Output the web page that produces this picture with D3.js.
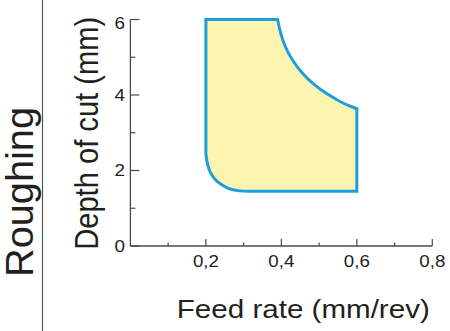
<!DOCTYPE html>
<html><head><meta charset="utf-8">
<script src="https://cdn.jsdelivr.net/npm/d3@7"></script>
<style>
html,body{margin:0;padding:0;background:#fff;}
svg{display:block;font-family:"Liberation Sans",Arial,sans-serif;}
</style></head>
<body><svg id="c" width="450" height="331"></svg>
<script>
// ---- data ----
const sectionLabel = "Roughing";
const xLabel = "Feed rate (mm/rev)";
const yLabel = "Depth of cut (mm)";
const xMajorTicks = [0.2, 0.4, 0.6, 0.8];
const xMinorTicks = [0.1, 0.3, 0.5, 0.7];
const yMajorTicks = [0, 2, 4, 6];
const yMinorTicks = [1, 3, 5];
// operating region outline (feed, depth)
const topLeftCorner = [0.2, 6];
const upperCurve = [[0.39,6],[0.398,5.62],[0.41,5.27],[0.428,4.93],[0.455,4.57],[0.485,4.28],[0.52,4.03],[0.556,3.82],[0.582,3.70],[0.6,3.64]];
const bottomRightCorner = [0.6, 1.45];
const lowerCurve = [[0.312,1.45],[0.29,1.46],[0.264,1.51],[0.242,1.62],[0.224,1.77],[0.211,1.97],[0.204,2.19],[0.2,2.46]];

// ---- drawing ----
const svg = d3.select("#c");
const x = d3.scaleLinear().domain([0, 0.8]).range([130.4, 432.3]);
const y = d3.scaleLinear().domain([0, 6]).range([246, 19.5]);
const axisColor = "#4a4a4a", textColor = "#231f20";
const fmt = d => String(d).replace(".", ",");

// left divider + section label
svg.append("line").attr("x1",42.5).attr("x2",42.5).attr("y1",0).attr("y2",331)
  .attr("stroke","#555").attr("stroke-width",1.2);
svg.append("text").text(sectionLabel)
  .attr("transform","translate(33,192) rotate(-90)")
  .attr("text-anchor","middle").attr("font-size",39).attr("fill",textColor)
  .attr("textLength",170).attr("lengthAdjust","spacingAndGlyphs");

// region
const smooth = d3.line().x(d=>x(d[0])).y(d=>y(d[1])).curve(d3.curveBasis);
const corner = d3.line().x(d=>x(d[0])).y(d=>y(d[1])).curve(d3.curveCatmullRom);
const pathD = "M" + x(topLeftCorner[0]) + "," + y(topLeftCorner[1])
  + smooth(upperCurve).replace(/^M/,"L")
  + "L" + x(bottomRightCorner[0]) + "," + y(bottomRightCorner[1])
  + corner(lowerCurve).replace(/^M/,"L") + "Z";
svg.append("path").attr("d", pathD)
  .attr("fill","#fdf4b1").attr("stroke","#1d9fdc").attr("stroke-width",3)
  .attr("stroke-linejoin","miter");

// x axis
const gx = svg.append("g").attr("transform","translate(0,246)");
gx.append("line").attr("x1",x(0)).attr("x2",x(0.8)).attr("stroke",axisColor).attr("stroke-width",1.3);
gx.selectAll(".xmaj").data(xMajorTicks).join("line")
  .attr("x1",d=>x(d)).attr("x2",d=>x(d)).attr("y1",0).attr("y2",-7)
  .attr("stroke",axisColor).attr("stroke-width",1.2);
gx.selectAll(".xmin").data(xMinorTicks).join("line")
  .attr("x1",d=>x(d)).attr("x2",d=>x(d)).attr("y1",0).attr("y2",-3.5)
  .attr("stroke",axisColor).attr("stroke-width",1.2);
gx.selectAll("text").data(xMajorTicks).join("text")
  .attr("x",d=>x(d)).attr("y",20.7).attr("text-anchor","middle")
  .attr("font-size",16).attr("fill",textColor)
  .attr("textLength",26).attr("lengthAdjust","spacingAndGlyphs")
  .text(fmt);

// y axis
const gy = svg.append("g").attr("transform","translate(130.4,0)");
gy.append("line").attr("y1",y(0)).attr("y2",y(6)).attr("stroke",axisColor).attr("stroke-width",1.3);
gy.selectAll(".ymaj").data(yMajorTicks).join("line")
  .attr("y1",d=>y(d)).attr("y2",d=>y(d)).attr("x1",0).attr("x2",9)
  .attr("stroke",axisColor).attr("stroke-width",1.2);
gy.selectAll(".ymin").data(yMinorTicks).join("line")
  .attr("y1",d=>y(d)).attr("y2",d=>y(d)).attr("x1",0).attr("x2",5)
  .attr("stroke",axisColor).attr("stroke-width",1.2);
gy.selectAll("text").data(yMajorTicks).join("text")
  .attr("x",-5.5).attr("y",d=>y(d) + (d===6 ? 9.5 : 5.8)).attr("text-anchor","end")
  .attr("font-size",16).attr("fill",textColor)
  .attr("textLength",10.5).attr("lengthAdjust","spacingAndGlyphs")
  .text(fmt);

// axis titles
svg.append("text").text(yLabel)
  .attr("transform","translate(98,133.3) rotate(-90)")
  .attr("text-anchor","middle").attr("font-size",34).attr("fill",textColor)
  .attr("textLength",233).attr("lengthAdjust","spacingAndGlyphs");
svg.append("text").text(xLabel)
  .attr("x",303.3).attr("y",318.3).attr("text-anchor","middle")
  .attr("font-size",25.5).attr("fill",textColor)
  .attr("textLength",253).attr("lengthAdjust","spacingAndGlyphs");
</script></body></html>
